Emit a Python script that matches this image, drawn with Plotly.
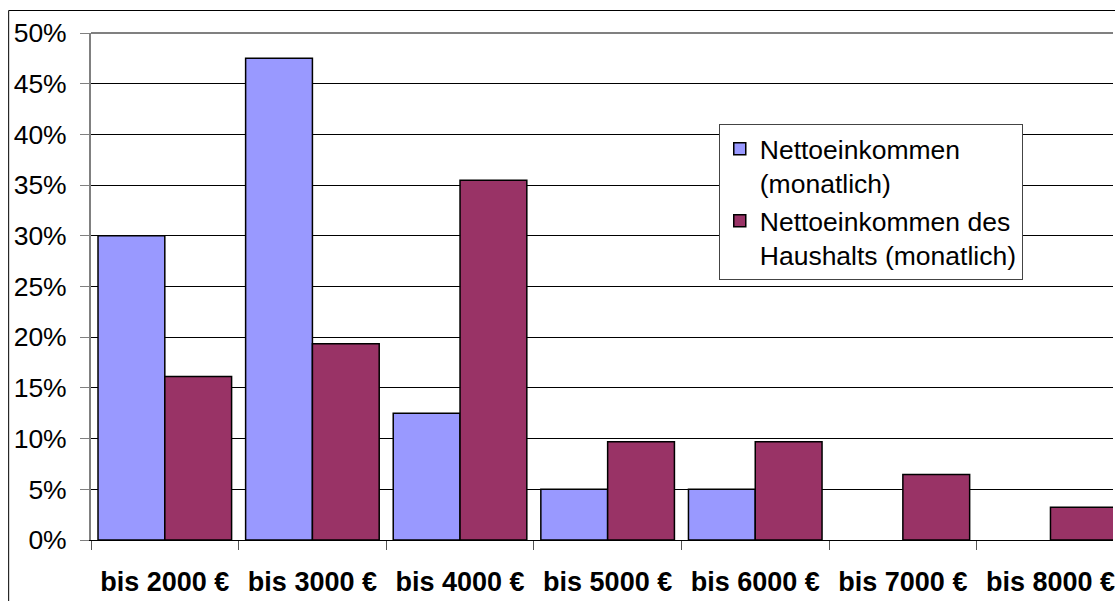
import plotly.graph_objects as go

# Income brackets and share of respondents (percent)
categories = ["bis 2000 €", "bis 3000 €", "bis 4000 €", "bis 5000 €",
              "bis 6000 €", "bis 7000 €", "bis 8000 €"]
personal_income = [30.0, 47.5, 12.5, 5.0, 5.0, None, None]
household_income = [16.13, 19.35, 35.48, 9.68, 9.68, 6.45, 3.23]
y_ticks = [0, 5, 10, 15, 20, 25, 30, 35, 40, 45, 50]
y_tick_labels = [f"{v}%" for v in y_ticks]

name_personal = "Nettoeinkommen<br>(monatlich)"
name_household = "Nettoeinkommen des<br>Haushalts (monatlich)"

FONT = "Liberation Sans, Arial, sans-serif"
W, H = 1115, 601
L, R, T, B = 91, 0, 33, 61
PW, PH = W - L - R, H - T - B


def px_x(p):
    return (p - L) / PW


def px_y(p):
    return (H - B - p) / PH


fig = go.Figure()
fig.add_trace(go.Bar(
    x=categories, y=personal_income, name=name_personal,
    marker=dict(color="#9999FF", line=dict(color="black", width=1.5)),
))
fig.add_trace(go.Bar(
    x=categories, y=household_income, name=name_household,
    marker=dict(color="#993366", line=dict(color="black", width=1.5)),
))

# category width ~148 px; right part of the last bracket runs off the edge
cat_px = 147.9
fig.update_xaxes(
    type="category",
    range=[-0.5, -0.5 + PW / cat_px],
    tickson="boundaries",
    ticks="outside", ticklen=9, tickcolor="#555", tickwidth=1,
    showline=True, linecolor="black", linewidth=1,
    tickfont=dict(family=FONT, size=27, color="black", weight="bold"),
    ticklabelstandoff=18,
    showgrid=False,
)
fig.update_yaxes(
    range=[0, 50],
    tickvals=y_ticks, ticktext=y_tick_labels,
    ticks="outside", ticklen=9, tickcolor="#808080", tickwidth=1,
    showline=True, linecolor="#808080", linewidth=2,
    showgrid=True, gridcolor="black", gridwidth=1,
    zeroline=False,
    tickfont=dict(family=FONT, size=26.5, color="black"),
    ticklabelstandoff=8,
)

shapes = [
    # gray top edge of the plot area
    dict(type="line", xref="paper", yref="paper", x0=0, x1=1, y0=1, y1=1,
         line=dict(color="#808080", width=2)),
    # outer chart frame
    dict(type="rect", xref="paper", yref="paper",
         x0=px_x(8.5), x1=px_x(1130), y0=px_y(10.5), y1=px_y(620),
         line=dict(color="black", width=1), fillcolor="rgba(0,0,0,0)"),
]

fig.update_layout(
    width=W, height=H,
    margin=dict(l=L, r=R, t=T, b=B, pad=0),
    paper_bgcolor="white", plot_bgcolor="white",
    barmode="group", bargap=0.095, bargroupgap=0,
    shapes=shapes,
    legend=dict(
        x=px_x(720), y=px_y(124), xanchor="left", yanchor="top",
        bgcolor="white", bordercolor="#444", borderwidth=1,
        font=dict(family=FONT, size=26.5, color="black"),
        valign="top", tracegroupgap=2, itemwidth=30,
    ),
    showlegend=True,
)

fig.write_html("out.html")
